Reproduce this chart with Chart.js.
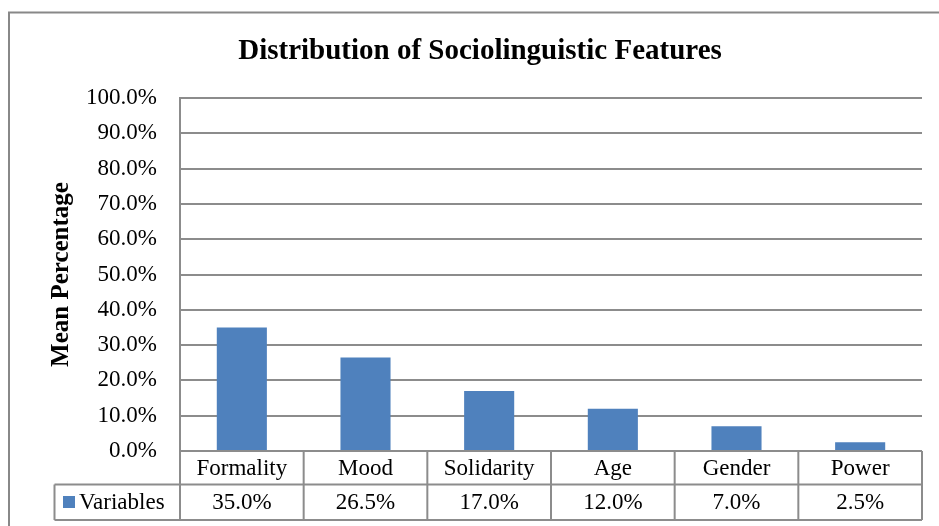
<!DOCTYPE html>
<html>
<head>
<meta charset="utf-8">
<script src="https://cdn.jsdelivr.net/npm/chart.js@4/dist/chart.umd.min.js"></script>
<style>
  html, body { margin: 0; padding: 0; background: #ffffff; }
  #wrap { width: 939px; height: 526px; position: relative; }
</style>
</head>
<body>
<div id="wrap"><canvas id="c" width="939" height="526"></canvas></div>
<script>
const chartTitle = "Distribution of Sociolinguistic Features";
const yAxisTitle = "Mean Percentage";
const categories = ["Formality", "Mood", "Solidarity", "Age", "Gender", "Power"];
const seriesName = "Variables";
const seriesValues = [35.0, 26.5, 17.0, 12.0, 7.0, 2.5];
const yTicks = [0, 10, 20, 30, 40, 50, 60, 70, 80, 90, 100];

const GRID = "#8c8c8c";
const BAR = "#4f81bd";
const FONT = "'Liberation Serif', 'Times New Roman', serif";

const fmt = v => v.toFixed(1) + "%";

const frameAndTable = {
  id: "frameAndTable",
  beforeDraw(chart) {
    const ctx = chart.ctx;
    ctx.save();
    ctx.strokeStyle = "#888888";
    ctx.lineWidth = 2;
    ctx.strokeRect(9, 12.5, 1200, 1200);
    ctx.restore();
  },
  afterDraw(chart) {
    const ctx = chart.ctx;
    const x = chart.scales.x;
    const area = chart.chartArea;
    const n = categories.length;
    const step = x.getPixelForValue(1) - x.getPixelForValue(0);
    const left = x.getPixelForValue(0) - step / 2;
    const right = x.getPixelForValue(n - 1) + step / 2;
    const r1top = area.bottom;
    const r1bot = r1top + 33.5;
    const r2bot = r1bot + 35.5;
    const legLeft = 54.5;

    ctx.save();
    ctx.strokeStyle = GRID;
    ctx.lineWidth = 2;
    ctx.beginPath();
    ctx.moveTo(left, r1top); ctx.lineTo(right, r1top);
    ctx.moveTo(legLeft, r1bot); ctx.lineTo(right, r1bot);
    ctx.moveTo(legLeft, r2bot); ctx.lineTo(right, r2bot);
    ctx.moveTo(legLeft, r1bot); ctx.lineTo(legLeft, r2bot);
    for (let i = 0; i <= n; i++) {
      const px = left + i * step;
      ctx.moveTo(px, r1top); ctx.lineTo(px, r2bot);
    }
    ctx.stroke();

    ctx.fillStyle = "#000000";
    ctx.font = "23px " + FONT;
    ctx.textAlign = "center";
    ctx.textBaseline = "middle";
    for (let i = 0; i < n; i++) {
      const cx = x.getPixelForValue(i);
      ctx.fillText(categories[i], cx, (r1top + r1bot) / 2 + 1);
      ctx.fillText(fmt(seriesValues[i]), cx, (r1bot + r2bot) / 2 + 1);
    }
    ctx.fillStyle = BAR;
    ctx.fillRect(63, 496, 12, 12);
    ctx.fillStyle = "#000000";
    ctx.textAlign = "left";
    ctx.fillText(seriesName, 79, (r1bot + r2bot) / 2 + 1);
    ctx.restore();
  }
};

new Chart(document.getElementById("c"), {
  type: "bar",
  data: {
    labels: categories,
    datasets: [{
      label: seriesName,
      data: seriesValues,
      backgroundColor: BAR,
      borderWidth: 0,
      categoryPercentage: 1.0,
      barPercentage: 0.405
    }]
  },
  options: {
    responsive: false,
    animation: false,
    devicePixelRatio: 1,
    layout: { padding: { left: 21, right: 0, top: 0, bottom: 75 } },
    plugins: {
      legend: { display: false },
      tooltip: { enabled: false },
      title: {
        display: true,
        text: chartTitle,
        color: "#000000",
        font: { family: FONT, size: 29, weight: "bold", lineHeight: 1.2 },
        padding: { top: 34, bottom: 29.2 }
      }
    },
    scales: {
      x: {
        display: false,
        grid: { display: false }
      },
      y: {
        min: 0,
        max: 100,
        afterFit(scale) { scale.width = 159; },
        afterBuildTicks(scale) { scale.ticks = yTicks.map(v => ({ value: v })); },
        ticks: {
          callback: v => fmt(v),
          color: "#000000",
          font: { family: FONT, size: 23 },
          padding: 23
        },
        grid: { color: GRID, lineWidth: 2, drawTicks: false },
        border: { display: true, color: GRID, width: 2 },
        title: {
          display: true,
          text: yAxisTitle,
          color: "#000000",
          font: { family: FONT, size: 25, weight: "bold", lineHeight: 1.2 },
          padding: { top: 26, bottom: 4 }
        }
      },
      yRight: {
        position: "right",
        display: true,
        min: 0,
        max: 100,
        afterFit(scale) { scale.width = 17; },
        ticks: { display: false },
        grid: { display: false, drawTicks: false },
        border: { display: false }
      }
    }
  },
  plugins: [frameAndTable]
});
</script>
</body>
</html>
